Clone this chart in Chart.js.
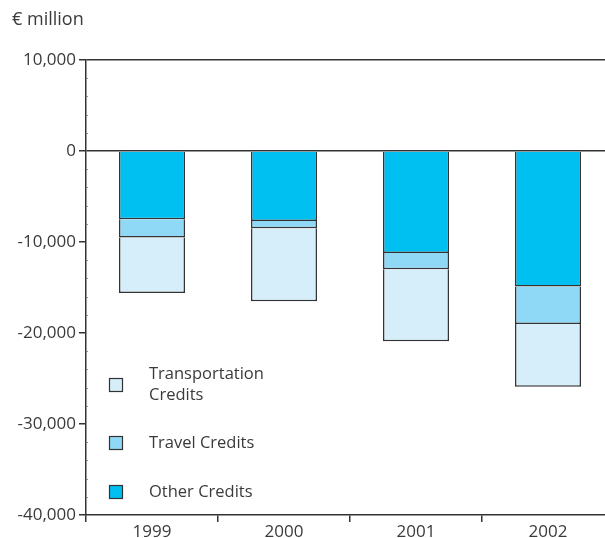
<!DOCTYPE html>
<html>
<head>
<meta charset="utf-8">
<script src="https://cdn.jsdelivr.net/npm/chart.js@4"></script>
<style>
  body { margin: 0; background: #fff; overflow: hidden; }
  #wrap { position: relative; width: 614px; height: 538px; }
</style>
</head>
<body>
<div id="wrap"><canvas id="chart"></canvas></div>
<script>
// Podaci (u milionima eura)
const godine = ['1999', '2000', '2001', '2002'];
const ostaliKrediti = [-7500, -7700, -11200, -14900];
const putovanjaKrediti = [-2000, -800, -1800, -4100];
const prijevozKrediti = [-6100, -8000, -7900, -6900];
const oznakeSerija = ['Other Credits', 'Travel Credits', 'Transportation\nCredits'];
const boje = ['#00bff1', '#8fd8f6', '#d5eefa'];
const jedinica = '€ million';

const font = "'Open Sans', 'DejaVu Sans', sans-serif";
const tamna = '#333333';
const tekst = '#3a3a3a';

// Legenda unutar grafa, oznaka jedinice i sitne pomoćne crtice na osi
const legendaPlugin = {
    id: 'legenda',
    afterDraw(chart) {
        const c = chart.ctx;
        const y = chart.scales.y;
        c.save();

        // sitne crtice svakih 2.000
        c.strokeStyle = '#8a8a8a';
        c.lineWidth = 1;
        for (let v = -40000; v <= 10000; v += 2000) {
            if (v % 10000 === 0) continue;
            const py = Math.round(y.getPixelForValue(v)) + 0.5;
            c.beginPath();
            c.moveTo(chart.chartArea.left, py);
            c.lineTo(chart.chartArea.left + 2, py);
            c.stroke();
        }

        c.fillStyle = tekst;
        c.font = '18px ' + font;
        c.textBaseline = 'middle';
        c.fillText(jedinica, 12, 20);

        c.font = '16.5px ' + font;
        const stavke = [
            { i: 2, y: 385 },
            { i: 1, y: 443 },
            { i: 0, y: 492 }
        ];
        stavke.forEach(s => {
            const ds = chart.data.datasets[s.i];
            c.fillStyle = ds.backgroundColor;
            c.fillRect(109.5, s.y - 6.5, 13, 13);
            c.strokeStyle = tamna;
            c.lineWidth = 1.2;
            c.strokeRect(109.5, s.y - 6.5, 13, 13);
            const redovi = ds.label.split('\n');
            c.fillStyle = tekst;
            redovi.forEach((red, k) => {
                const ty = s.y + (k - (redovi.length - 1) / 2) * 21;
                c.fillText(red, 149, ty);
            });
        });
        c.restore();
    }
};

const serije = [ostaliKrediti, putovanjaKrediti, prijevozKrediti];

new Chart(document.getElementById('chart'), {
    type: 'bar',
    data: {
        labels: godine,
        datasets: serije.map((vrijednosti, i) => ({
            label: oznakeSerija[i],
            data: vrijednosti,
            backgroundColor: boje[i],
            borderColor: tamna,
            borderWidth: 1.5,
            borderSkipped: 'start',
            categoryPercentage: 1,
            barPercentage: 0.5
        }))
    },
    options: {
        responsive: true,
        maintainAspectRatio: false,
        animation: false,
        layout: { padding: { top: 60, left: 0, right: 0, bottom: 0 } },
        plugins: {
            legend: { display: false },
            tooltip: { enabled: false }
        },
        scales: {
            x: {
                stacked: true,
                afterFit(scale) { scale.height = 23; },
                grid: {
                    offset: true,
                    drawOnChartArea: false,
                    drawTicks: true,
                    tickLength: 7,
                    tickColor: tamna,
                    lineWidth: 1.5
                },
                border: { display: true, color: tamna, width: 1.5 },
                ticks: {
                    color: tekst,
                    font: { family: font, size: 17 },
                    padding: 0
                }
            },
            y: {
                stacked: true,
                min: -40000,
                max: 10000,
                afterFit(scale) { scale.width = 86; },
                grid: {
                    color: ctx => (ctx.tick && (ctx.tick.value === 0 || ctx.tick.value === 10000)) ? tamna : 'rgba(0,0,0,0)',
                    lineWidth: 1.5,
                    drawTicks: true,
                    tickLength: 7,
                    tickColor: tamna
                },
                border: { display: true, color: tamna, width: 1.5 },
                ticks: {
                    stepSize: 10000,
                    color: tekst,
                    font: { family: font, size: 17 },
                    padding: 3,
                    callback: v => v.toLocaleString('en-US')
                }
            }
        }
    },
    plugins: [legendaPlugin]
});
</script>
</body>
</html>
